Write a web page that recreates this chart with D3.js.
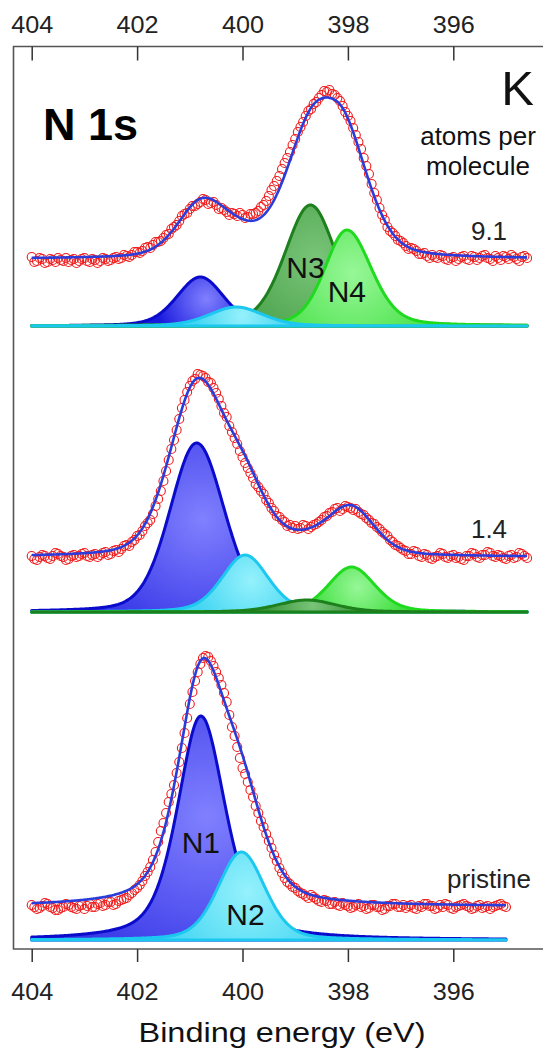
<!DOCTYPE html>
<html>
<head>
<meta charset="utf-8">
<script src="https://cdn.jsdelivr.net/npm/d3@7/dist/d3.min.js"></script>
<style>
    body { margin: 0; background: #fff; }
    svg { display: block; font-family: 'Liberation Sans', Arial, sans-serif; }
</style>
</head>
<body>
<div id="vis"></div>
<script>

// binding energy grid of the scans (eV)
var energies = [
    404.00, 403.95, 403.90, 403.85, 403.80, 403.75, 403.70, 403.65, 403.60, 403.55,
    403.50, 403.45, 403.40, 403.35, 403.30, 403.25, 403.20, 403.15, 403.10, 403.05,
    403.00, 402.95, 402.90, 402.85, 402.80, 402.75, 402.70, 402.65, 402.60, 402.55,
    402.50, 402.45, 402.40, 402.35, 402.30, 402.25, 402.20, 402.15, 402.10, 402.05,
    402.00, 401.95, 401.90, 401.85, 401.80, 401.75, 401.70, 401.65, 401.60, 401.55,
    401.50, 401.45, 401.40, 401.35, 401.30, 401.25, 401.20, 401.15, 401.10, 401.05,
    401.00, 400.95, 400.90, 400.85, 400.80, 400.75, 400.70, 400.65, 400.60, 400.55,
    400.50, 400.45, 400.40, 400.35, 400.30, 400.25, 400.20, 400.15, 400.10, 400.05,
    400.00, 399.95, 399.90, 399.85, 399.80, 399.75, 399.70, 399.65, 399.60, 399.55,
    399.50, 399.45, 399.40, 399.35, 399.30, 399.25, 399.20, 399.15, 399.10, 399.05,
    399.00, 398.95, 398.90, 398.85, 398.80, 398.75, 398.70, 398.65, 398.60, 398.55,
    398.50, 398.45, 398.40, 398.35, 398.30, 398.25, 398.20, 398.15, 398.10, 398.05,
    398.00, 397.95, 397.90, 397.85, 397.80, 397.75, 397.70, 397.65, 397.60, 397.55,
    397.50, 397.45, 397.40, 397.35, 397.30, 397.25, 397.20, 397.15, 397.10, 397.05,
    397.00, 396.95, 396.90, 396.85, 396.80, 396.75, 396.70, 396.65, 396.60, 396.55,
    396.50, 396.45, 396.40, 396.35, 396.30, 396.25, 396.20, 396.15, 396.10, 396.05,
    396.00, 395.95, 395.90, 395.85, 395.80, 395.75, 395.70, 395.65, 395.60, 395.55,
    395.50, 395.45, 395.40, 395.35, 395.30, 395.25, 395.20, 395.15, 395.10, 395.05,
    395.00, 394.95, 394.90, 394.85, 394.80, 394.75, 394.70, 394.65, 394.60
];

// measured intensity (a.u.), one value per energy
var countsK91 = [
    69, 64, 65, 68, 67, 63, 64, 67, 66, 64,
    68, 66, 65, 68, 64, 66, 67, 63, 65, 67,
    68, 65, 64, 67, 66, 63, 65, 68, 67, 65,
    66, 68, 69, 67, 68, 71, 70, 69, 71, 74,
    74, 73, 75, 78, 79, 78, 81, 84, 84, 85,
    88, 91, 92, 97, 99, 101, 105, 110, 112, 113,
    117, 120, 120, 122, 124, 127, 126, 122, 123, 124,
    121, 117, 118, 116, 114, 111, 113, 112, 110, 113,
    111, 108, 109, 112, 112, 113, 115, 119, 121, 125,
    130, 136, 140, 145, 150, 157, 163, 168, 174, 181,
    187, 194, 199, 204, 210, 215, 217, 222, 224, 228,
    231, 235, 234, 236, 232, 231, 228, 225, 220, 214,
    210, 205, 198, 191, 184, 177, 168, 160, 152, 142,
    133, 126, 118, 111, 106, 99, 95, 93, 90, 86,
    85, 83, 80, 77, 78, 77, 75, 72, 72, 73,
    70, 68, 71, 69, 68, 71, 70, 67, 66, 68,
    69, 65, 67, 69, 70, 67, 66, 70, 69, 66,
    68, 70, 71, 68, 67, 65, 70, 68, 66, 70,
    69, 67, 71, 69, 67, 65, 69, 70, 68
];

var countsK14 = [
    56, 53, 52, 55, 57, 56, 54, 53, 56, 59,
    58, 56, 55, 52, 53, 56, 57, 55, 56, 58,
    59, 56, 55, 57, 58, 55, 57, 59, 60, 57,
    58, 61, 62, 60, 63, 66, 67, 66, 70, 72,
    76, 77, 81, 86, 89, 92, 98, 106, 113, 121,
    131, 141, 152, 163, 172, 182, 193, 204, 212, 220,
    226, 231, 233, 238, 237, 236, 234, 230, 229, 224,
    219, 213, 206, 199, 195, 186, 180, 174, 168, 161,
    155, 149, 144, 139, 134, 128, 125, 121, 118, 112,
    109, 104, 101, 96, 95, 92, 90, 86, 87, 84,
    86, 83, 84, 87, 86, 83, 85, 87, 88, 90,
    92, 95, 96, 99, 100, 103, 104, 101, 103, 106,
    105, 104, 102, 103, 100, 98, 97, 94, 92, 89,
    88, 85, 83, 80, 78, 76, 72, 70, 67, 66,
    64, 62, 61, 58, 58, 61, 60, 56, 55, 58,
    57, 54, 53, 55, 56, 59, 58, 55, 54, 56,
    57, 54, 55, 53, 52, 56, 56, 59, 58, 55,
    54, 57, 57, 60, 59, 56, 55, 57, 56, 54,
    53, 56, 57, 54, 55, 59, 58, 56, 54
];

var countsPristine = [
    35, 33, 31, 32, 34, 37, 36, 33, 32, 30,
    30, 32, 33, 36, 35, 33, 32, 31, 34, 35,
    31, 34, 36, 33, 33, 36, 37, 34, 35, 38,
    38, 35, 36, 39, 40, 41, 42, 45, 47, 50,
    52, 55, 59, 64, 68, 73, 80, 88, 98, 109,
    117, 127, 138, 146, 155, 167, 178, 192, 207, 222,
    236, 248, 259, 268, 276, 282, 284, 283, 279, 274,
    268, 262, 255, 247, 238, 225, 213, 204, 193, 182,
    172, 166, 158, 150, 143, 134, 127, 119, 113, 106,
    99, 92, 85, 79, 72, 67, 62, 58, 56, 53,
    52, 49, 47, 46, 44, 42, 45, 43, 41, 39,
    38, 40, 39, 36, 36, 38, 35, 34, 37, 35,
    34, 32, 33, 35, 36, 33, 34, 31, 32, 35,
    35, 33, 33, 30, 31, 34, 34, 36, 36, 33,
    33, 35, 32, 34, 35, 32, 31, 34, 33, 36,
    36, 34, 34, 31, 32, 35, 33, 36, 35, 32,
    31, 33, 34, 35, 36, 34, 33, 31, 32, 34,
    35, 32, 33, 34, 31, 33, 34, 35, 36, 34,
    33
];

var panelNames = ['9.1', '1.4', 'pristine'];
var bgLevels = [67, 55, 33.5];
var scanEnds = [394.6, 394.6, 395.0];

// fitted components N1..N4 (center eV, height, fwhm high-BE side, fwhm low-BE side, lorentz fraction)
var peakNames = ['N1', 'N2', 'N3', 'N4'];

var centersK91 = [400.80, 400.12, 398.71, 398.02];
var heightsK91 = [49, 19, 121, 96];
var widthHiK91 = [1.05, 1.2, 1.15, 0.99];
var widthLoK91 = [1.05, 1.2, 1.15, 1.1];
var lorentzK91 = [0.3, 0.3, 0.3, 0.3];

var centersK14 = [400.87, 399.95, 398.78, 397.93];
var heightsK14 = [169, 57, 12, 45];
var widthHiK14 = [1.2, 1.04, 1.3, 1.04];
var widthLoK14 = [1.25, 1.04, 1.3, 1.04];
var lorentzK14 = [0.25, 0.3, 0.3, 0.3];

var centersPristine = [400.79, 400.02];
var heightsPristine = [224, 88];
var widthHiPristine = [1.05, 1.05];
var widthLoPristine = [1.1, 1.05];
var lorentzPristine = [0.5, 0.3];

var tickValues = [404, 402, 400, 398, 396];


var width = 543;
var height = 1055;

var frame = { left: 13.5, top: 46.5, bottom: 949, right: 545 };

var x = d3.scaleLinear().domain([404, 394]).range([31.7, 558.7]);
var y = d3.scaleLinear().domain([0, 900]).range([940, 40]);

// vertical stacking of the three spectra (a.u.)
var stackOffset = [614, 328, 0];
var drawOrder = [[0, 2, 3, 1], [0, 1, 3, 2], [0, 1]];

var peakFill = {
    N1: ['#8080ff', '#1a1ade'],
    N2: ['#95f1fc', '#41d5f2'],
    N3: ['#79c479', '#3a963a'],
    N4: ['#97f797', '#40df40']
};
var peakStroke = { N1: '#0b0bcc', N2: '#1cc8ef', N3: '#1d801d', N4: '#20da20' };

function makePeaks(c, h, wHi, wLo, eta) {
    return c.map(function (d, i) {
        return { name: peakNames[i], center: d, height: h[i], wHi: wHi[i], wLo: wLo[i], eta: eta[i] };
    });
}

var panels = [
    { name: panelNames[0], counts: countsK91, bg: bgLevels[0], end: scanEnds[0],
      peaks: makePeaks(centersK91, heightsK91, widthHiK91, widthLoK91, lorentzK91) },
    { name: panelNames[1], counts: countsK14, bg: bgLevels[1], end: scanEnds[1],
      peaks: makePeaks(centersK14, heightsK14, widthHiK14, widthLoK14, lorentzK14) },
    { name: panelNames[2], counts: countsPristine, bg: bgLevels[2], end: scanEnds[2],
      peaks: makePeaks(centersPristine, heightsPristine, widthHiPristine, widthLoPristine, lorentzPristine) }
];

// pseudo-Voigt line shape
function peakValue(e, p) {
    var w = e > p.center ? p.wHi : p.wLo;
    var d = (e - p.center) / w;
    var g = Math.exp(-4 * Math.LN2 * d * d);
    var l = 1 / (1 + 4 * d * d);
    return p.height * ((1 - p.eta) * g + p.eta * l);
}

var svg = d3.select('#vis')
    .append('svg')
    .attr('width', width)
    .attr('height', height);

var defs = svg.append('defs');

panels.forEach(function (panel, pi) {

    var off = stackOffset[pi];
    var grid = d3.range(404, panel.end - 0.001, -0.02);

    var g = svg.append('g').attr('class', 'panel');

    drawOrder[pi].forEach(function (k) {
        var p = panel.peaks[k];
        var id = 'grad-' + pi + '-' + k;
        var pts = grid.map(function (e) { return { e: e, v: peakValue(e, p) }; });

        var grad = defs.append('radialGradient')
            .attr('id', id)
            .attr('gradientUnits', 'userSpaceOnUse')
            .attr('cx', x(p.center) + 6)
            .attr('cy', y(off + p.height * 0.55))
            .attr('r', Math.max(p.height, 45) * 1.05);
        grad.append('stop').attr('offset', '0%').attr('stop-color', peakFill[p.name][0]);
        grad.append('stop').attr('offset', '100%').attr('stop-color', peakFill[p.name][1]);

        var area = d3.area()
            .x(function (d) { return x(d.e); })
            .y0(y(off))
            .y1(function (d) { return y(off + d.v); });

        g.append('path')
            .datum(pts)
            .attr('d', area)
            .attr('fill', 'url(#' + id + ')')
            .attr('stroke', peakStroke[p.name])
            .attr('stroke-width', 3)
            .attr('stroke-linejoin', 'round');
    });

    var pts = energies.slice(0, panel.counts.length).map(function (e, i) {
        return { e: e, v: panel.counts[i] };
    });

    g.selectAll('circle')
        .data(pts)
        .enter().append('circle')
        .attr('cx', function (d) { return x(d.e); })
        .attr('cy', function (d) { return y(off + d.v); })
        .attr('r', 4.5)
        .attr('fill', 'none')
        .attr('stroke', '#f01c1c')
        .attr('stroke-width', 1.1);

    var envelope = grid.map(function (e) {
        var s = panel.bg;
        panel.peaks.forEach(function (p) { s += peakValue(e, p); });
        return { e: e, v: s };
    });

    g.append('path')
        .datum(envelope)
        .attr('d', d3.line()
            .x(function (d) { return x(d.e); })
            .y(function (d) { return y(off + d.v); }))
        .attr('fill', 'none')
        .attr('stroke', '#2a3ddb')
        .attr('stroke-width', 2.6);

    g.append('text')
        .attr('x', 489)
        .attr('y', y(off + panel.bg + 19))
        .attr('text-anchor', 'middle')
        .attr('font-size', 26)
        .attr('fill', '#222')
        .text(panel.name);
});

// component labels
var peakLabels = [
    { panel: 0, peak: 2, dx: -5, v: 48 },
    { panel: 0, peak: 3, dx: 0, v: 24 },
    { panel: 2, peak: 0, dx: 0, v: 87 },
    { panel: 2, peak: 1, dx: 4, v: 15 }
];

svg.selectAll('.plabel')
    .data(peakLabels)
    .enter().append('text')
    .attr('class', 'plabel')
    .attr('x', function (d) { return x(panels[d.panel].peaks[d.peak].center) + d.dx; })
    .attr('y', function (d) { return y(stackOffset[d.panel] + d.v); })
    .attr('text-anchor', 'middle')
    .attr('font-size', 30)
    .attr('fill', '#111')
    .text(function (d) { return peakNames[d.peak]; });

// frame
svg.append('path')
    .attr('d', 'M' + frame.right + ',' + frame.top + 'H' + frame.left + 'V' + frame.bottom + 'H' + frame.right)
    .attr('fill', 'none')
    .attr('stroke', '#555')
    .attr('stroke-width', 1.6);

var topAxis = svg.append('g')
    .attr('transform', 'translate(0,' + frame.top + ')')
    .call(d3.axisTop(x).tickValues(tickValues).tickSizeInner(-14).tickSizeOuter(0).tickPadding(13.5));

var bottomAxis = svg.append('g')
    .attr('transform', 'translate(0,' + frame.bottom + ')')
    .call(d3.axisBottom(x).tickValues(tickValues).tickSizeInner(13).tickSizeOuter(0).tickPadding(21.7));

[topAxis, bottomAxis].forEach(function (ax) {
    ax.select('.domain').remove();
    ax.attr('font-family', null)
        .attr('font-size', 23)
        .style('color', '#333');
    ax.selectAll('line').attr('stroke-width', 1.5);
    ax.selectAll('text')
        .attr('fill', '#222')
        .attr('textLength', 42)
        .attr('lengthAdjust', 'spacingAndGlyphs');
});

svg.append('text')
    .attr('x', 282)
    .attr('y', 1042)
    .attr('text-anchor', 'middle')
    .attr('font-size', 27)
    .attr('textLength', 287)
    .attr('lengthAdjust', 'spacingAndGlyphs')
    .attr('fill', '#111')
    .text('Binding energy (eV)');

svg.append('text')
    .attr('x', 43)
    .attr('y', 140)
    .attr('font-size', 45)
    .attr('font-weight', 'bold')
    .attr('fill', '#000')
    .text('N 1s');

svg.append('text')
    .attr('x', 534)
    .attr('y', 105)
    .attr('text-anchor', 'end')
    .attr('font-size', 49)
    .attr('fill', '#111')
    .text('K');

svg.append('text')
    .attr('x', 478)
    .attr('y', 145)
    .attr('text-anchor', 'middle')
    .attr('font-size', 26)
    .attr('fill', '#111')
    .text('atoms per');

svg.append('text')
    .attr('x', 478)
    .attr('y', 175)
    .attr('text-anchor', 'middle')
    .attr('font-size', 26)
    .attr('fill', '#111')
    .text('molecule');

</script>
</body>
</html>
